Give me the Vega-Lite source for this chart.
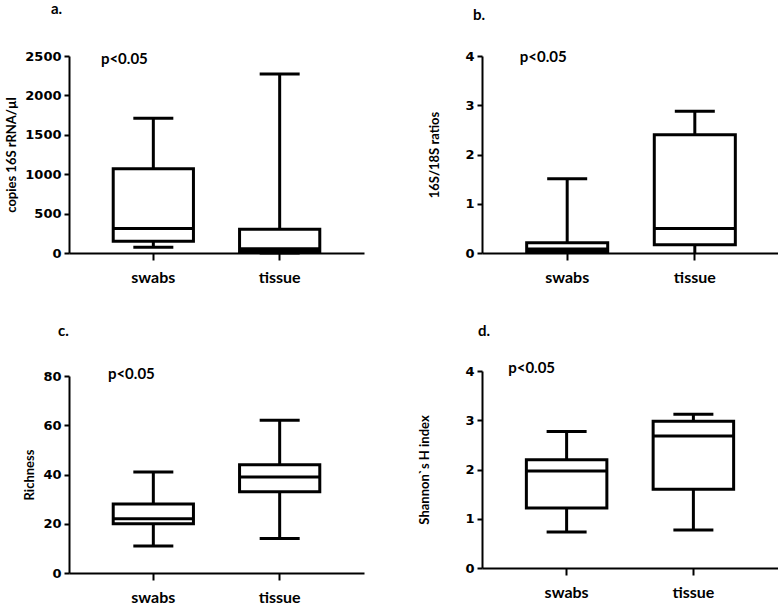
{
  "$schema": "https://vega.github.io/schema/vega-lite/v6.json",
  "background": "white",
  "padding": {"left": 5, "top": 2, "right": 0, "bottom": 0},
  "datasets": {
    "copies": [
      {"group": "swabs", "min": 72, "q1": 148, "median": 310, "q3": 1070, "max": 1710},
      {"group": "tissue", "min": 0, "q1": 20, "median": 55, "q3": 302, "max": 2270}
    ],
    "ratios": [
      {"group": "swabs", "min": 0, "q1": 0.03, "median": 0.08, "q3": 0.21, "max": 1.51},
      {"group": "tissue", "min": 0, "q1": 0.17, "median": 0.5, "q3": 2.4, "max": 2.88}
    ],
    "richness": [
      {"group": "swabs", "min": 11, "q1": 20, "median": 22, "q3": 28, "max": 41},
      {"group": "tissue", "min": 14, "q1": 33, "median": 39, "q3": 44, "max": 62}
    ],
    "shannon": [
      {"group": "swabs", "min": 0.73, "q1": 1.22, "median": 1.97, "q3": 2.2, "max": 2.77},
      {"group": "tissue", "min": 0.77, "q1": 1.6, "median": 2.68, "q3": 2.98, "max": 3.12}
    ],
    "note": [{"group": "swabs", "label": "p<0.05"}]
  },
  "spacing": 54,
  "hconcat": [
    {
      "spacing": 39,
      "vconcat": [
        {
          "width": 295, "height": 197,
          "title": {"text": "a.", "anchor": "start", "frame": "group", "dx": -18, "offset": 33},
          "data": {"name": "copies"},
          "encoding": {"x": {"field": "group", "type": "nominal", "sort": ["swabs", "tissue"], "scale": {"paddingInner": 0.365, "paddingOuter": 0.35}}},
          "layer": [
            {"mark": {"type": "rule", "color": "black", "strokeWidth": 3},
             "encoding": {"y": {"field": "min", "type": "quantitative", "title": "copies 16S rRNA/µl", "scale": {"domain": [0, 2500], "nice": false}, "axis": {"values": [0, 500, 1000, 1500, 2000, 2500], "format": "d", "titlePadding": 6}}, "y2": {"field": "max"}}},
            {"mark": {"type": "bar", "fill": "white", "stroke": "black", "strokeWidth": 3},
             "encoding": {"y": {"field": "q1", "type": "quantitative", "title": "copies 16S rRNA/µl", "axis": {"values": [0, 500, 1000, 1500, 2000, 2500], "format": "d", "titlePadding": 6}}, "y2": {"field": "q3"}}},
            {"mark": {"type": "tick", "color": "black", "opacity": 1, "thickness": 3, "size": 80},
             "encoding": {"y": {"field": "median", "type": "quantitative", "title": "copies 16S rRNA/µl", "axis": {"values": [0, 500, 1000, 1500, 2000, 2500], "format": "d", "titlePadding": 6}}}},
            {"mark": {"type": "tick", "color": "black", "opacity": 1, "thickness": 3, "size": 40},
             "encoding": {"y": {"field": "min", "type": "quantitative", "title": "copies 16S rRNA/µl", "axis": {"values": [0, 500, 1000, 1500, 2000, 2500], "format": "d", "titlePadding": 6}}}},
            {"mark": {"type": "tick", "color": "black", "opacity": 1, "thickness": 3, "size": 40},
             "encoding": {"y": {"field": "max", "type": "quantitative", "title": "copies 16S rRNA/µl", "axis": {"values": [0, 500, 1000, 1500, 2000, 2500], "format": "d", "titlePadding": 6}}}},
            {"data": {"name": "note"},
             "mark": {"type": "text", "font": "Lato", "fontWeight": "bold", "fontSize": 15, "baseline": "middle", "dx": -29, "dy": 3},
             "encoding": {"y": {"datum": 2500, "type": "quantitative", "title": "copies 16S rRNA/µl", "axis": {"values": [0, 500, 1000, 1500, 2000, 2500], "format": "d", "titlePadding": 6}}, "text": {"field": "label"}}}
          ]
        },
        {
          "width": 295, "height": 197,
          "title": {"text": "c.", "anchor": "start", "frame": "group", "dx": -11, "offset": 28},
          "data": {"name": "richness"},
          "encoding": {"x": {"field": "group", "type": "nominal", "sort": ["swabs", "tissue"], "scale": {"paddingInner": 0.365, "paddingOuter": 0.35}}},
          "layer": [
            {"mark": {"type": "rule", "color": "black", "strokeWidth": 3},
             "encoding": {"y": {"field": "min", "type": "quantitative", "title": "Richness", "scale": {"domain": [0, 80], "nice": false}, "axis": {"values": [0, 20, 40, 60, 80], "titlePadding": 6}}, "y2": {"field": "max"}}},
            {"mark": {"type": "bar", "fill": "white", "stroke": "black", "strokeWidth": 3},
             "encoding": {"y": {"field": "q1", "type": "quantitative", "title": "Richness", "axis": {"values": [0, 20, 40, 60, 80], "titlePadding": 6}}, "y2": {"field": "q3"}}},
            {"mark": {"type": "tick", "color": "black", "opacity": 1, "thickness": 3, "size": 80},
             "encoding": {"y": {"field": "median", "type": "quantitative", "title": "Richness", "axis": {"values": [0, 20, 40, 60, 80], "titlePadding": 6}}}},
            {"mark": {"type": "tick", "color": "black", "opacity": 1, "thickness": 3, "size": 40},
             "encoding": {"y": {"field": "min", "type": "quantitative", "title": "Richness", "axis": {"values": [0, 20, 40, 60, 80], "titlePadding": 6}}}},
            {"mark": {"type": "tick", "color": "black", "opacity": 1, "thickness": 3, "size": 40},
             "encoding": {"y": {"field": "max", "type": "quantitative", "title": "Richness", "axis": {"values": [0, 20, 40, 60, 80], "titlePadding": 6}}}},
            {"data": {"name": "note"},
             "mark": {"type": "text", "font": "Lato", "fontWeight": "bold", "fontSize": 15, "baseline": "middle", "dx": -22, "dy": -2},
             "encoding": {"y": {"datum": 80, "type": "quantitative", "title": "Richness", "axis": {"values": [0, 20, 40, 60, 80], "titlePadding": 6}}, "text": {"field": "label"}}}
          ]
        }
      ]
    },
    {
      "spacing": 39,
      "columns": 1,
      "align": "none",
      "concat": [
        {
          "width": 298, "height": 197,
          "title": {"text": "b.", "anchor": "start", "frame": "group", "dx": -9, "offset": 27},
          "data": {"name": "ratios"},
          "encoding": {"x": {"field": "group", "type": "nominal", "sort": ["swabs", "tissue"], "scale": {"paddingInner": 0.365, "paddingOuter": 0.35}}},
          "layer": [
            {"mark": {"type": "rule", "color": "black", "strokeWidth": 3},
             "encoding": {"y": {"field": "min", "type": "quantitative", "title": "16S/18S ratios", "scale": {"domain": [0, 4], "nice": false}, "axis": {"values": [0, 1, 2, 3, 4], "titlePadding": 23}}, "y2": {"field": "max"}}},
            {"mark": {"type": "bar", "fill": "white", "stroke": "black", "strokeWidth": 3},
             "encoding": {"y": {"field": "q1", "type": "quantitative", "title": "16S/18S ratios", "axis": {"values": [0, 1, 2, 3, 4], "titlePadding": 23}}, "y2": {"field": "q3"}}},
            {"mark": {"type": "tick", "color": "black", "opacity": 1, "thickness": 3, "size": 80},
             "encoding": {"y": {"field": "median", "type": "quantitative", "title": "16S/18S ratios", "axis": {"values": [0, 1, 2, 3, 4], "titlePadding": 23}}}},
            {"mark": {"type": "tick", "color": "black", "opacity": 1, "thickness": 3, "size": 40},
             "encoding": {"y": {"field": "max", "type": "quantitative", "title": "16S/18S ratios", "axis": {"values": [0, 1, 2, 3, 4], "titlePadding": 23}}}},
            {"data": {"name": "note"},
             "mark": {"type": "text", "font": "Lato", "fontWeight": "bold", "fontSize": 15, "baseline": "middle", "dx": -24, "dy": 1},
             "encoding": {"y": {"datum": 4, "type": "quantitative", "title": "16S/18S ratios", "axis": {"values": [0, 1, 2, 3, 4], "titlePadding": 23}}, "text": {"field": "label"}}}
          ]
        },
        {
          "width": 296, "height": 197,
          "title": {"text": "d.", "anchor": "start", "frame": "group", "dx": -4, "offset": 22},
          "data": {"name": "shannon"},
          "encoding": {"x": {"field": "group", "type": "nominal", "sort": ["swabs", "tissue"], "scale": {"paddingInner": 0.365, "paddingOuter": 0.35}}},
          "layer": [
            {"mark": {"type": "rule", "color": "black", "strokeWidth": 3},
             "encoding": {"y": {"field": "min", "type": "quantitative", "title": "Shannon`s H index", "scale": {"domain": [0, 4], "nice": false}, "axis": {"values": [0, 1, 2, 3, 4], "titlePadding": 33}}, "y2": {"field": "max"}}},
            {"mark": {"type": "bar", "fill": "white", "stroke": "black", "strokeWidth": 3},
             "encoding": {"y": {"field": "q1", "type": "quantitative", "title": "Shannon`s H index", "axis": {"values": [0, 1, 2, 3, 4], "titlePadding": 33}}, "y2": {"field": "q3"}}},
            {"mark": {"type": "tick", "color": "black", "opacity": 1, "thickness": 3, "size": 80},
             "encoding": {"y": {"field": "median", "type": "quantitative", "title": "Shannon`s H index", "axis": {"values": [0, 1, 2, 3, 4], "titlePadding": 33}}}},
            {"mark": {"type": "tick", "color": "black", "opacity": 1, "thickness": 3, "size": 40},
             "encoding": {"y": {"field": "min", "type": "quantitative", "title": "Shannon`s H index", "axis": {"values": [0, 1, 2, 3, 4], "titlePadding": 33}}}},
            {"mark": {"type": "tick", "color": "black", "opacity": 1, "thickness": 3, "size": 40},
             "encoding": {"y": {"field": "max", "type": "quantitative", "title": "Shannon`s H index", "axis": {"values": [0, 1, 2, 3, 4], "titlePadding": 33}}}},
            {"data": {"name": "note"},
             "mark": {"type": "text", "font": "Lato", "fontWeight": "bold", "fontSize": 15, "baseline": "middle", "dx": -35, "dy": -3},
             "encoding": {"y": {"datum": 4, "type": "quantitative", "title": "Shannon`s H index", "axis": {"values": [0, 1, 2, 3, 4], "titlePadding": 33}}, "text": {"field": "label"}}}
          ]
        }
      ]
    }
  ],
  "config": {
    "view": {"stroke": null},
    "title": {"font": "Lato", "fontWeight": "bold", "fontSize": 15, "color": "black"},
    "axis": {"grid": false, "domainColor": "black", "domainWidth": 2, "tickColor": "black", "tickWidth": 2, "labelColor": "black", "titleColor": "black"},
    "axisX": {"labelAngle": 0, "tickSize": 7, "labelFont": "Lato", "labelFontWeight": "bold", "labelFontSize": 16, "labelPadding": 9, "title": null},
    "axisY": {"tickSize": 5, "labelPadding": 3, "labelFont": "DejaVu Sans", "labelFontWeight": "bold", "labelFontSize": 13, "titleFont": "Lato", "titleFontWeight": "bold", "titleFontSize": 13}
  }
}
